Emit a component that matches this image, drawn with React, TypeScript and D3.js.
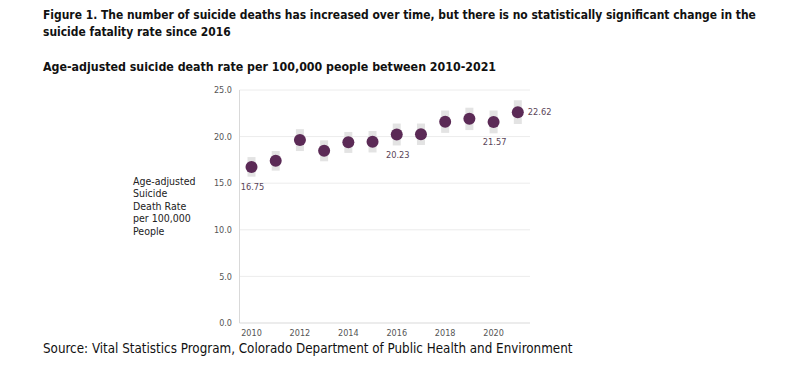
import * as d3 from "d3";
import { useEffect, useRef } from "react";

const years = [2010, 2011, 2012, 2013, 2014, 2015, 2016, 2017, 2018, 2019, 2020, 2021];
const rates = [16.75, 17.41, 19.63, 18.49, 19.39, 19.45, 20.23, 20.25, 21.6, 21.92, 21.57, 22.62];
const ciLow = [15.7, 16.35, 18.45, 17.35, 18.25, 18.3, 19.05, 19.1, 20.4, 20.7, 20.35, 21.35];
const ciHigh = [17.8, 18.45, 20.8, 19.6, 20.5, 20.6, 21.4, 21.4, 22.8, 23.1, 22.8, 23.9];
const labelled: Record<number, string> = { 2010: "below", 2016: "below", 2020: "below", 2021: "right" };
const yTicks = [0, 5, 10, 15, 20, 25];
const xTicks = [2010, 2012, 2014, 2016, 2018, 2020];
const yTitle = ["Age-adjusted", "Suicide", "Death Rate", "per 100,000", "People"];

const font = "'DejaVu Sans Condensed', 'DejaVu Sans', sans-serif";

export default function App() {
  const ref = useRef<SVGSVGElement>(null);

  useEffect(() => {
    const svg = d3.select(ref.current);
    svg.selectAll("*").remove();

    const x = d3.scaleLinear().domain([2010, 2021]).range([251.5, 517.8]);
    const y = d3.scaleLinear().domain([0, 25]).range([323, 90]);
    const left = 239.5, right = 530;

    svg.append("text").attr("x", 43).attr("y", 19).attr("font-size", 11.95).attr("font-weight", "bold")
      .attr("fill", "#111")
      .text("Figure 1. The number of suicide deaths has increased over time, but there is no statistically significant change in the");
    svg.append("text").attr("x", 43).attr("y", 36).attr("font-size", 11.95).attr("font-weight", "bold")
      .attr("fill", "#111").text("suicide fatality rate since 2016");
    svg.append("text").attr("x", 43).attr("y", 71).attr("font-size", 12.3).attr("font-weight", "bold")
      .attr("fill", "#111").text("Age-adjusted suicide death rate per 100,000 people between 2010-2021");
    svg.append("text").attr("x", 43).attr("y", 353).attr("font-size", 13.3)
      .attr("fill", "#111").text("Source: Vital Statistics Program, Colorado Department of Public Health and Environment");

    // grid
    const g = svg.append("g");
    g.selectAll("line.grid").data(yTicks.filter(t => t > 0)).join("line")
      .attr("x1", left).attr("x2", right).attr("y1", d => y(d)).attr("y2", d => y(d))
      .attr("stroke", "#ececec").attr("stroke-width", 1);
    g.append("line").attr("x1", left).attr("x2", left).attr("y1", y(25)).attr("y2", y(0)).attr("stroke", "#d9d9d9");
    g.append("line").attr("x1", left).attr("x2", right).attr("y1", y(0)).attr("y2", y(0)).attr("stroke", "#d9d9d9");

    g.selectAll("text.yt").data(yTicks).join("text")
      .attr("x", 232).attr("y", d => y(d)).attr("dy", "0.35em").attr("text-anchor", "end")
      .attr("font-size", 9).attr("fill", "#555").text(d => d.toFixed(1));
    g.selectAll("text.xt").data(xTicks).join("text")
      .attr("x", d => x(d)).attr("y", 336).attr("text-anchor", "middle")
      .attr("font-size", 9).attr("fill", "#555").text(d => String(d));

    g.selectAll("text.ytitle").data(yTitle).join("text")
      .attr("x", 133).attr("y", (_, i) => 185 + i * 12.4)
      .attr("font-size", 10.5).attr("fill", "#222").text(d => d);

    // error bars
    g.selectAll("rect.ci").data(years).join("rect")
      .attr("x", d => x(d) - 4).attr("width", 8)
      .attr("y", (_, i) => y(ciHigh[i])).attr("height", (_, i) => y(ciLow[i]) - y(ciHigh[i]))
      .attr("fill", "#e3e3e3");

    g.selectAll("circle").data(years).join("circle")
      .attr("cx", d => x(d)).attr("cy", (_, i) => y(rates[i])).attr("r", 6)
      .attr("fill", "#5b2a56");

    g.selectAll("text.lab").data(years.filter(yr => labelled[yr])).join("text")
      .attr("x", d => labelled[d] === "right" ? x(d) + 10 : x(d) + 1)
      .attr("y", d => {
        const v = rates[years.indexOf(d)];
        return labelled[d] === "right" ? y(v) : y(v) + 20;
      })
      .attr("dy", "0.35em")
      .attr("text-anchor", d => labelled[d] === "right" ? "start" : "middle")
      .attr("font-size", 9.2).attr("fill", "#5a4558")
      .text(d => rates[years.indexOf(d)].toFixed(2));
  }, []);

  return (
    <svg ref={ref} width={800} height={370}
      style={{ display: "block", position: "absolute", left: 0, top: 0, fontFamily: font, background: "#fff" }} />
  );
}
